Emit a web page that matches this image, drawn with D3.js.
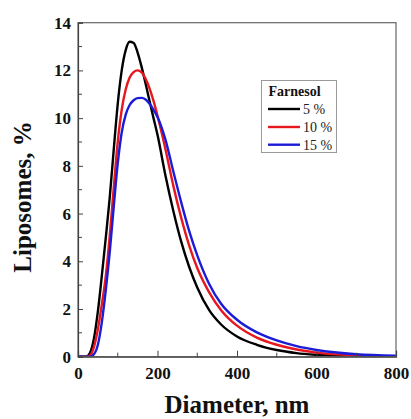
<!DOCTYPE html>
<html>
<head>
<meta charset="utf-8">
<script src="https://cdn.jsdelivr.net/npm/d3@7"></script>
<style>
  html, body { margin: 0; padding: 0; background: #fff; }
  svg { display: block; }
</style>
</head>
<body>
<svg id="chart" width="411" height="419"></svg>
<script>
// ---- Data ----
const diameters = [0, 20, 30, 40, 50, 60, 70, 80, 90, 100, 110, 120, 130, 140, 150, 160, 170, 180, 190, 200,
                   220, 240, 260, 280, 300, 330, 360, 400, 450, 500, 550, 600, 700, 800];
const farnesol5  = [0, 0, 0.15, 0.75, 1.9, 3.4, 5.0, 6.7, 8.7, 10.6, 12.0, 12.85, 13.2, 13.15, 12.75, 12.15, 11.45, 10.72, 10.0, 9.3,
                    7.6, 6.1, 4.8, 3.75, 2.9, 1.95, 1.35, 0.85, 0.5, 0.28, 0.15, 0.08, 0.02, 0];
const farnesol10 = [0, 0, 0.05, 0.4, 1.15, 2.2, 3.4, 5.1, 7.1, 9.0, 10.35, 11.2, 11.7, 11.93, 12.0, 11.92, 11.65, 11.25, 10.72, 10.1,
                    8.7, 7.15, 5.8, 4.65, 3.72, 2.7, 1.95, 1.3, 0.8, 0.5, 0.3, 0.17, 0.05, 0.01];
const farnesol15 = [0, 0, 0, 0.1, 0.5, 1.45, 2.8, 4.4, 6.3, 8.1, 9.4, 10.15, 10.55, 10.75, 10.84, 10.85, 10.78, 10.6, 10.35, 10.05,
                    9.1, 7.75, 6.45, 5.25, 4.25, 3.05, 2.22, 1.55, 1.02, 0.68, 0.44, 0.28, 0.1, 0.04];
const seriesNames = ["5 %", "10 %", "15 %"];
const seriesColors = ["#000000", "#e8161e", "#1c1cd8"];
const xTicks = [0, 200, 400, 600, 800];
const yTicks = [0, 2, 4, 6, 8, 10, 12, 14];
const xMinor = [100, 300, 500, 700];
const yMinor = [1, 3, 5, 7, 9, 11, 13];
const xTitle = "Diameter, nm";
const yTitle = "Liposomes, %";
const legendTitle = "Farnesol";

// ---- Layout ----
const svg = d3.select("#chart");
const L = 78, R = 396, T = 22.7, B = 356.7;
const x = d3.scaleLinear().domain([0, 800]).range([L, R]);
const y = d3.scaleLinear().domain([0, 14]).range([B, T]);
const font = "'Liberation Serif', 'Times New Roman', serif";

const series = [farnesol5, farnesol10, farnesol15];

svg.append("clipPath").attr("id", "clip")
  .append("rect").attr("x", L).attr("y", T).attr("width", R - L).attr("height", B - T);

const line = d3.line()
  .x((d, i) => x(diameters[i]))
  .y(d => y(d))
  .curve(d3.curveMonotoneX);

const g = svg.append("g").attr("clip-path", "url(#clip)");
series.forEach((s, k) => {
  g.append("path")
    .datum(s)
    .attr("d", line)
    .attr("fill", "none")
    .attr("stroke", seriesColors[k])
    .attr("stroke-width", 2.4)
    .attr("stroke-linejoin", "round");
});

// frame
svg.append("rect").attr("x", L).attr("y", T).attr("width", R - L).attr("height", B - T)
  .attr("fill", "none").attr("stroke", "#666").attr("stroke-width", 1.2);

// axes (ticks inside)
const xAxis = d3.axisBottom(x).tickValues(xTicks).tickSize(-6).tickPadding(10).tickFormat(d3.format("d"));
const gx = svg.append("g").attr("transform", `translate(0,${B})`).call(xAxis);
const yAxis = d3.axisLeft(y).tickValues(yTicks).tickSize(-5).tickPadding(7).tickFormat(d3.format("d"));
const gy = svg.append("g").attr("transform", `translate(${L},0)`).call(yAxis);

[gx, gy].forEach(ga => {
  ga.select(".domain").attr("stroke", "#444").attr("stroke-width", 1.2);
  ga.selectAll(".tick line").attr("stroke", "#444").attr("stroke-width", 1);
  ga.selectAll(".tick text")
    .attr("font-family", font).attr("font-weight", "bold").attr("font-size", 17).attr("fill", "#111");
});

// minor ticks
svg.append("g").selectAll("line").data(xMinor).join("line")
  .attr("x1", d => x(d)).attr("x2", d => x(d)).attr("y1", B).attr("y2", B - 4)
  .attr("stroke", "#444").attr("stroke-width", 1);
svg.append("g").selectAll("line").data(yMinor).join("line")
  .attr("x1", L).attr("x2", L + 4).attr("y1", d => y(d)).attr("y2", d => y(d))
  .attr("stroke", "#444").attr("stroke-width", 1);

// axis titles
svg.append("text").attr("x", (L + R) / 2).attr("y", 413).attr("text-anchor", "middle")
  .attr("font-family", font).attr("font-weight", "bold").attr("font-size", 25).attr("fill", "#111")
  .text(xTitle);
svg.append("text").attr("transform", `translate(31,197) rotate(-90)`).attr("text-anchor", "middle")
  .attr("font-family", font).attr("font-weight", "bold").attr("font-size", 25).attr("fill", "#111")
  .text(yTitle);

// legend
const lg = svg.append("g");
lg.append("rect").attr("x", 261.5).attr("y", 80.5).attr("width", 75).attr("height", 72)
  .attr("fill", "#fff").attr("stroke", "#999").attr("stroke-width", 1);
lg.append("text").attr("x", 268.5).attr("y", 96)
  .attr("font-family", font).attr("font-weight", "bold").attr("font-size", 14).attr("fill", "#111")
  .text(legendTitle);
const ly = [109, 127, 144.7];
seriesNames.forEach((n, k) => {
  lg.append("line").attr("x1", 268).attr("x2", 300).attr("y1", ly[k]).attr("y2", ly[k])
    .attr("stroke", seriesColors[k]).attr("stroke-width", 2.4);
  lg.append("text").attr("x", 303).attr("y", ly[k] + 5)
    .attr("font-family", font).attr("font-size", 14).attr("fill", "#222")
    .text(n);
});
</script>
</body>
</html>
